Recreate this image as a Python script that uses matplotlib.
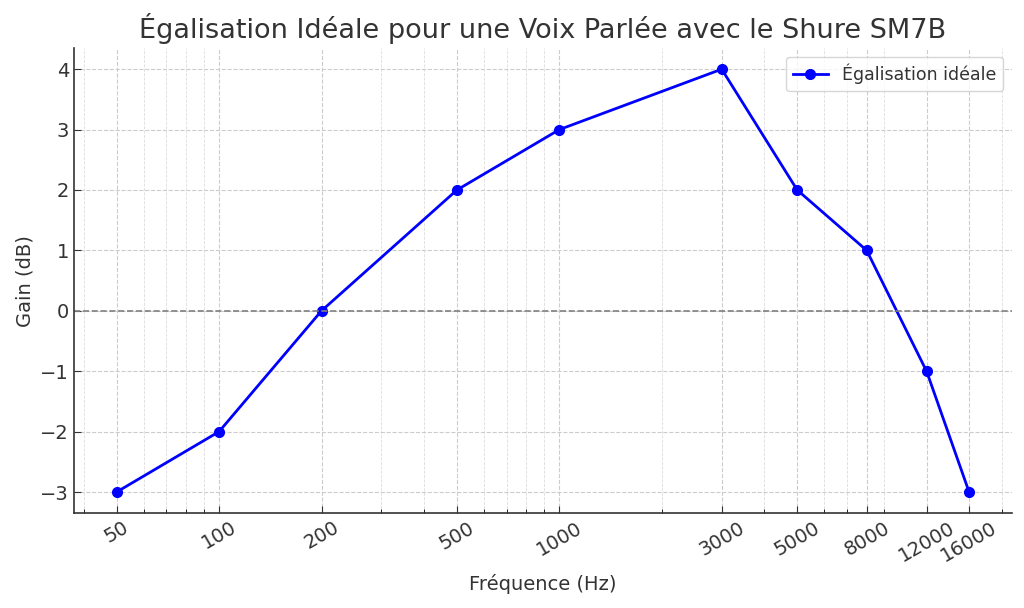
import matplotlib
matplotlib.use("Agg")
import matplotlib.pyplot as plt
from matplotlib.ticker import FixedLocator, NullFormatter

frequences = [50, 100, 200, 500, 1000, 3000, 5000, 8000, 12000, 16000]
gains = [-3, -2, 0, 2, 3, 4, 2, 1, -1, -3]
tick_labels = [str(f) for f in frequences]

fig = plt.figure(figsize=(10.24, 6.08), dpi=100)
ax = fig.add_axes([0.0723, 0.156, 0.9157, 0.765])

ax.plot(frequences, gains, marker='o', color='blue', linewidth=2, markersize=7,
        label='Égalisation idéale')
ax.axhline(0, color='gray', linestyle='--', linewidth=1.2)
ax.set_xscale('log')
ax.xaxis.set_major_locator(FixedLocator(frequences))
ax.set_xticklabels(tick_labels, rotation=30)
ax.xaxis.set_minor_formatter(NullFormatter())

ax.grid(True, which='major', linestyle='--', color='#cccccc', linewidth=0.8)
ax.grid(True, which='minor', linestyle='--', color='#dddddd', linewidth=0.6)
ax.tick_params(direction='in', labelsize=14, colors='#333333', length=5)
ax.tick_params(which='minor', direction='in', length=3)
for s in ['top', 'right']:
    ax.spines[s].set_visible(False)
for s in ['left', 'bottom']:
    ax.spines[s].set_color('#333333')
    ax.spines[s].set_linewidth(1.2)

ax.set_title('Égalisation Idéale pour une Voix Parlée avec le Shure SM7B',
             fontsize=19.5, color='#333333', pad=7)
ax.set_xlabel('Fréquence (Hz)', fontsize=14, color='#333333', labelpad=6)
ax.set_ylabel('Gain (dB)', fontsize=14, color='#333333')
ax.legend(loc='upper right', fontsize=12.5, labelcolor='#333333')

fig.savefig('out.png', dpi=100)
